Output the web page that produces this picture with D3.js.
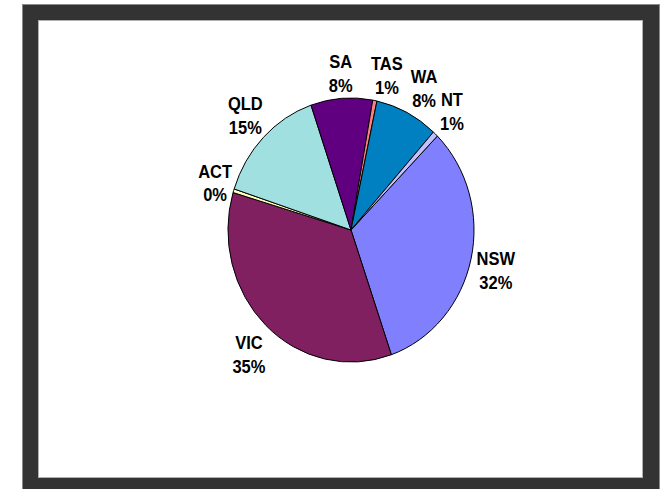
<!DOCTYPE html>
<html>
<head>
<meta charset="utf-8">
<script src="https://cdn.jsdelivr.net/npm/d3@7"></script>
<style>
  html, body { margin: 0; padding: 0; background: #fff; }
  svg { display: block; }
  .lbl { font-family: "Liberation Sans", Arial, sans-serif; font-weight: bold; font-size: 16.5px; fill: #000; }
</style>
</head>
<body>
<div id="chart"></div>
<script>
// slices, clockwise from the NSW/NT edge
const states = ["NSW", "VIC", "ACT", "QLD", "SA", "TAS", "WA", "NT"];
const shares = [32.3, 34.9, 0.45, 14.7, 8.1, 0.55, 8.3, 0.7];
const colors = ["#8080FF", "#802060", "#FFFFC0", "#A0E0E0", "#600080", "#FF8080", "#0080C0", "#C0C0FF"];

const W = 666, H = 489;
const cx = 351, cy = 230;
const rx = 123, ry = 132;      // pie is drawn a bit taller than wide
const startDeg = 44.6;

const svg = d3.select("#chart").append("svg").attr("width", W).attr("height", H);

// frame
svg.append("rect").attr("x", 22.5).attr("y", 4.5).attr("width", 637).attr("height", 490)
    .attr("fill", "#333").attr("stroke", "#8a8a8a");
svg.append("rect").attr("x", 38.5).attr("y", 20.5).attr("width", 604).attr("height", 457)
    .attr("fill", "#fff").attr("stroke", "#b0b0b0");

const total = d3.sum(shares);
const data = states.map((s, i) => ({ name: s, value: shares[i], color: colors[i] }));

const pie = d3.pie().sort(null).value(d => d.value)
    .startAngle(startDeg * Math.PI / 180)
    .endAngle(startDeg * Math.PI / 180 + 2 * Math.PI);
const arcs = pie(data);

const arc = d3.arc().innerRadius(0).outerRadius(1);

const g = svg.append("g").attr("transform", `translate(${cx},${cy}) scale(${rx},${ry})`);
g.selectAll("path").data(arcs).enter().append("path")
    .attr("d", arc)
    .attr("fill", d => d.data.color)
    .attr("stroke", "#000")
    .attr("stroke-width", 1)
    .attr("vector-effect", "non-scaling-stroke")
    .attr("stroke-linejoin", "round");

// labels: outside the rim along the mid angle, box pushed away from the pie
const gapX = 1.03, gapY = 1.08;
const clampX = t => Math.max(-1, Math.min(1, t * 3));
const clampY = t => Math.max(-1, Math.min(1, t * 1.5));
const sy = 1.07;
const lg = svg.append("g");
arcs.forEach(d => {
    const a = (d.startAngle + d.endAngle) / 2;
    const s = Math.sin(a), c = Math.cos(a);
    const pct = Math.round(d.data.value / total * 100) + "%";
    const t = lg.append("text").attr("class", "lbl").attr("text-anchor", "middle");
    const t1 = t.append("tspan").attr("x", 0).text(d.data.name);
    const t2 = t.append("tspan").attr("x", 0).text(pct);
    const w = Math.max(t1.node().getComputedTextLength(), t2.node().getComputedTextLength());
    const h = 36;
    const lx = cx + 2 + rx * gapX * s + clampX(s) * w / 2;
    const ly = cy - ry * gapY * c - clampY(c) * h / 2;
    t1.attr("y", -2 / sy);
    t2.attr("y", 22 / sy);
    t.attr("transform", `translate(${lx},${ly}) scale(1,${sy})`);
});
</script>
</body>
</html>
